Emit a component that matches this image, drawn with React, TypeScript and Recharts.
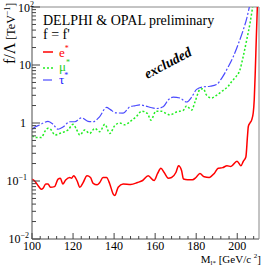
import React from 'react';
import { LineChart, Line, XAxis, YAxis, ReferenceArea } from 'recharts';

const SERIF = '"Liberation Serif", "DejaVu Serif", serif';

// e* limit
const eMass = [100, 101.3, 103, 104.6, 105.4, 106.7, 107.8, 109, 111, 112.7, 113.8, 115, 116.4, 118.4, 119.3, 120.3, 122, 123.3, 124.9, 126.8, 128.5, 129.8, 131.7, 133, 134.6, 136.3, 137.9, 139.5, 140.3, 142, 144.4, 148.1, 151.4, 153.9, 156.6, 159.5, 161.2, 162.8, 164.4, 166.4, 168, 170.1, 171.4, 172.9, 173.8, 175.8, 178.2, 179.9, 181.8, 183.9, 186.3, 188.8, 190.7, 192.9, 195, 196.9, 199.9, 201.8, 203, 204.2, 205, 205.4, 206.2, 207, 207.8, 208.3, 208.8, 209.3, 209.8];
const eLimit = [0.108, 0.1, 0.083, 0.072, 0.075, 0.089, 0.089, 0.078, 0.08, 0.108, 0.112, 0.089, 0.104, 0.115, 0.112, 0.123, 0.1, 0.078, 0.094, 0.123, 0.115, 0.091, 0.086, 0.094, 0.115, 0.115, 0.089, 0.06, 0.056, 0.078, 0.089, 0.087, 0.094, 0.102, 0.123, 0.102, 0.135, 0.166, 0.14, 0.112, 0.115, 0.14, 0.183, 0.15, 0.108, 0.105, 0.105, 0.115, 0.135, 0.118, 0.115, 0.135, 0.166, 0.17, 0.183, 0.178, 0.22, 0.183, 0.22, 0.26, 0.6, 0.87, 1.0, 1.12, 1.5, 2.6, 8, 30, 100];

// mu* limit
const muMass = [100, 102.1, 104.6, 106.2, 107.8, 109.5, 111.1, 113.5, 116, 117.6, 120, 121.5, 123.3, 125.7, 128.1, 130.6, 133, 135.5, 137.9, 140.3, 142.8, 145.2, 147.7, 150.9, 153.5, 156.3, 157.9, 160.4, 163, 165.5, 167.2, 170.4, 173.7, 175.3, 177.8, 179.4, 181.9, 183.4, 185.1, 187.5, 189.9, 192.4, 195.6, 197.3, 199.4, 201.3, 202.9, 204.6, 206.2, 207.5];
const muLimit = [0.6, 0.56, 0.56, 0.71, 0.81, 0.75, 0.62, 0.66, 0.71, 0.76, 0.95, 0.8, 0.62, 0.76, 0.66, 0.81, 0.71, 0.95, 0.66, 0.9, 1.0, 0.93, 1.05, 1.3, 1.6, 1.45, 1.12, 1.6, 1.6, 1.45, 1.38, 1.55, 1.65, 1.96, 1.67, 2.3, 3.8, 3.9, 3.0, 2.7, 3.0, 3.5, 4.3, 5.2, 6.3, 8.2, 14, 27, 52, 100];

// tau* limit
const tauMass = [100, 101.5, 103.8, 105.5, 107.8, 110.3, 112.7, 115.1, 118.4, 120.8, 124.1, 127.3, 129.8, 133, 136.3, 138.2, 140.8, 144.4, 147.7, 150, 152.5, 155.5, 157.9, 160.7, 163.9, 166.4, 168.8, 172.1, 175.3, 177.8, 180.2, 183.4, 186.7, 189.9, 192.4, 195.6, 198, 200.5, 202.9, 204.6, 205.9];
const tauLimit = [0.77, 0.85, 0.93, 1.0, 1.07, 0.95, 0.78, 0.85, 1.05, 1.05, 1.23, 1.07, 1.05, 1.29, 1.86, 1.7, 1.5, 1.48, 1.9, 1.98, 2.05, 1.95, 1.85, 1.78, 1.9, 2.5, 2.8, 2.7, 2.3, 2.8, 3.8, 4.2, 4.3, 4.6, 5.9, 9.3, 13.8, 23, 40, 63, 100];

const xTicks = [100, 104, 108, 112, 116, 120, 124, 128, 132, 136, 140, 144, 148, 152, 156, 160, 164, 168, 172, 176, 180, 184, 188, 192, 196, 200, 204, 208];
const yTicks = [0.01, 0.02, 0.03, 0.04, 0.05, 0.06, 0.07, 0.08, 0.09, 0.1, 0.2, 0.3, 0.4, 0.5, 0.6, 0.7, 0.8, 0.9, 1, 2, 3, 4, 5, 6, 7, 8, 9, 10, 20, 30, 40, 50, 60, 70, 80, 90, 100];
const yLabels: Record<string, [string, string]> = {
  '2': ['10', '2'],
  '1': ['10', ''],
  '0': ['1', ''],
  '-1': ['10', '\u22121'],
  '-2': ['10', '\u22122'],
};

const X_MIN = 100;
const X_MAX = 210.6;

const eData = eMass.map((m, i) => ({ m, v: eLimit[i] }));
const muData = muMass.map((m, i) => ({ m, v: muLimit[i] }));
const tauData = tauMass.map((m, i) => ({ m, v: tauLimit[i] }));

const XTick = (props: any) => {
  const { x, y, payload } = props;
  const v = payload.value;
  const major = v % 20 === 0;
  return (
    <g>
      <line x1={x} y1={y} x2={x} y2={y - (major ? 6 : 3)} stroke="#444" strokeWidth={1} />
      {major && (
        <text x={x} y={y + 11} textAnchor="middle" fontSize={12} fontFamily={SERIF} fill="#000">
          {v}
        </text>
      )}
    </g>
  );
};

const labelEnd: Record<string, number> = { '2': 34, '1': 31, '0': 26, '-1': 27, '-2': 29 };

const YTick = (props: any) => {
  const { x, y, payload } = props;
  const v = payload.value;
  const lg = Math.log10(v);
  const e = Math.round(lg);
  const major = Math.abs(lg - e) < 1e-6;
  const key = String(e);
  const lab = major ? yLabels[key] : null;
  return (
    <g>
      <line x1={x} y1={y} x2={x + (major ? 8 : 4)} y2={y} stroke="#444" strokeWidth={1} />
      {lab && (
        <text x={labelEnd[key]} y={y + (e === 2 ? 5 : 4)} textAnchor="end" fontSize={12} fontFamily={SERIF} fill="#000">
          {lab[0]}
          {lab[1] && (
            <tspan fontSize={8} dy={-5}>
              {lab[1]}
            </tspan>
          )}
        </text>
      )}
    </g>
  );
};

export default function App() {
  return (
    <div style={{ position: 'absolute', left: 0, top: 0, width: 262, height: 267, background: '#fff' }}>
      <LineChart width={262} height={267} margin={{ top: 7, right: 3, bottom: 0, left: 0 }}>
        <XAxis
          dataKey="m"
          type="number"
          domain={[X_MIN, X_MAX]}
          allowDataOverflow
          ticks={xTicks}
          interval={0}
          height={28}
          tickSize={0}
          tickMargin={0}
          tick={<XTick />}
          axisLine={{ stroke: '#888' }}
        />
        <YAxis
          dataKey="v"
          type="number"
          scale="log"
          domain={[0.01, 100]}
          allowDataOverflow
          ticks={yTicks}
          interval={0}
          width={32}
          tickSize={0}
          tickMargin={0}
          tick={<YTick />}
          axisLine={{ stroke: '#888' }}
        />
        <ReferenceArea x1={X_MIN} x2={X_MAX} y1={0.01} y2={100} fill="none" stroke="#888" strokeWidth={1} />
        <Line data={tauData} dataKey="v" type="monotone" stroke="#4a4aff" strokeWidth={1.2} strokeDasharray="9 2 2 2" dot={false} isAnimationActive={false} />
        <Line data={muData} dataKey="v" type="monotone" stroke="#22ee22" strokeWidth={1.5} strokeDasharray="2 2" dot={false} isAnimationActive={false} />
        <Line data={eData} dataKey="v" type="monotone" stroke="#ff0000" strokeWidth={1.5} dot={false} isAnimationActive={false} />
      </LineChart>
      <svg width={262} height={267} style={{ position: 'absolute', left: 0, top: 0, pointerEvents: 'none' }}>
        <text x={43} y={25} fontSize={14} fontFamily={SERIF} fill="#000">DELPHI &amp; OPAL preliminary</text>
        <text x={43} y={39} fontSize={14} fontFamily={SERIF} fill="#000">f = f'</text>
        <line x1={43} y1={52} x2={53} y2={52} stroke="#ff0000" strokeWidth={1.5} />
        <text x={59} y={57} fontSize={13} fontFamily={SERIF} fill="#ff0000">
          e<tspan fontSize={8} dy={-6}>*</tspan>
        </text>
        <line x1={43} y1={68} x2={53} y2={68} stroke="#22ee22" strokeWidth={1.5} strokeDasharray="2 2" />
        <text x={59} y={71} fontSize={13} fontFamily={SERIF} fill="#22cc22">
          μ<tspan fontSize={8} dy={-6}>*</tspan>
        </text>
        <line x1={43} y1={80} x2={53} y2={80} stroke="#4a4aff" strokeWidth={1.2} strokeDasharray="9 2 2 2" />
        <text x={59} y={84} fontSize={13} fontFamily={SERIF} fill="#2222ff">
          τ<tspan fontSize={8} dy={-6}>*</tspan>
        </text>
        <text x={170} y={67} textAnchor="middle" fontSize={14} fontWeight="bold" fontStyle="italic" fontFamily={SERIF} fill="#000" transform="rotate(-28 170 67)">
          excluded
        </text>
        <text x={15} y={64} textAnchor="start" fontFamily={SERIF} fill="#000" transform="rotate(-90 15 64)">
          <tspan fontSize={16}>f/Λ</tspan>
          <tspan fontSize={12}> [TeV</tspan>
          <tspan fontSize={8} dy={-5}>−1</tspan>
          <tspan fontSize={12} dy={5}>]</tspan>
        </text>
        <text x={261} y={263} textAnchor="end" fontFamily={SERIF} fill="#000">
          <tspan fontSize={11}>M</tspan>
          <tspan fontSize={7} dy={2}>l*</tspan>
          <tspan fontSize={11} dy={-2}> [GeV/c </tspan>
          <tspan fontSize={7} dy={-5}>2</tspan>
          <tspan fontSize={11} dy={5}>]</tspan>
        </text>
      </svg>
    </div>
  );
}
